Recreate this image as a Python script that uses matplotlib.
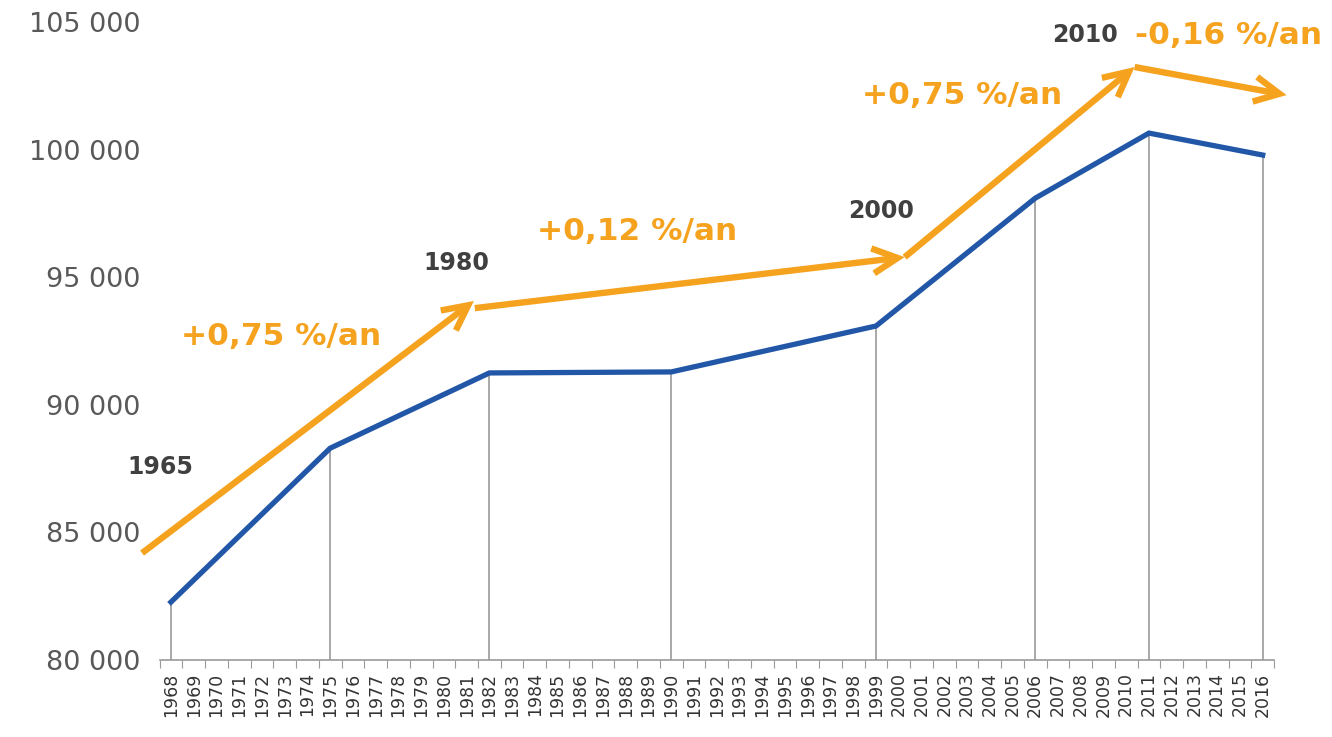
import numpy as np
import matplotlib
matplotlib.use("Agg")
import matplotlib.pyplot as plt

# %% DATA
years = list(range(1968, 2017))
obs_years = [1968, 1975, 1982, 1990, 1999, 2006, 2011, 2016]
obs_values = [82270, 88300, 91250, 91290, 93090, 98100, 100650, 99790]

# trend arrows (year index, value) : start -> end
trend_x0 = [-1.27, 13.36, 32.26, 42.37]
trend_y0 = [84190, 93790, 95790, 103240]
trend_x1 = [13.32, 32.26, 42.37, 49.05]
trend_y1 = [94070, 95790, 103240, 102140]
trend_labels = ['+0,75 %/an', '+0,12 %/an', '+0,75 %/an', '-0,16 %/an']
trend_lab_x = [4.84, 20.48, 34.77, 46.5]
trend_lab_y = [92660, 96810, 102140, 104490]

period_labels = ['1965', '1980', '2000', '2010']
period_x = [-0.48, 12.53, 31.2, 40.18]
period_y = [87560, 95560, 97600, 104490]

blue = '#2257A8'
orange = '#F5A21E'
dark = '#404040'

# %% PLOT
fig = plt.figure(figsize=(13.32, 7.37), dpi=100)
ax = fig.add_axes([0.1198, 0.1045, 0.8367, 0.8655])

idx = [years.index(y) for y in obs_years]
ax.vlines(idx, 80000, obs_values, color='#9a9a9a', lw=1.2, zorder=1)
ax.plot(idx, obs_values, color=blue, lw=3.8, solid_joinstyle='miter', zorder=3)

for x0, y0, x1, y1 in zip(trend_x0, trend_y0, trend_x1, trend_y1):
    ax.annotate('', xy=(x1, y1), xytext=(x0, y0), annotation_clip=False,
                arrowprops=dict(arrowstyle='->,head_length=0.6,head_width=0.3',
                                color=orange, lw=4.6, mutation_scale=30,
                                shrinkA=0, shrinkB=0, joinstyle='miter',
                                capstyle='butt'))

for t, x, y in zip(trend_labels, trend_lab_x, trend_lab_y):
    ax.text(x, y, t, color=orange, fontsize=22.5, fontweight='bold',
            ha='center', va='center', clip_on=False)
for t, x, y in zip(period_labels, period_x, period_y):
    ax.text(x, y, t, color=dark, fontsize=17, fontweight='bold',
            ha='center', va='center', clip_on=False)

ax.set_xlim(-0.5, len(years) - 0.5)
ax.set_ylim(80000, 105000)
ax.set_yticks(np.arange(80000, 105001, 5000))
ax.set_yticklabels([f'{v // 1000} 000' for v in range(80000, 105001, 5000)],
                   fontsize=19.5, color='#595959')
ax.tick_params(axis='y', length=0, pad=14)

ax.set_xticks(np.arange(-0.5, len(years)), labels=[])
ax.set_xticks(np.arange(len(years)), labels=[str(y) for y in years], minor=True)
ax.tick_params(axis='x', which='major', length=6, color='#9a9a9a', direction='out')
ax.tick_params(axis='x', which='minor', length=0, pad=9, labelsize=12.5,
               labelcolor='#333333', labelrotation=90)

for s in ['top', 'right', 'left']:
    ax.spines[s].set_visible(False)
ax.spines['bottom'].set_color('#9a9a9a')
ax.spines['bottom'].set_linewidth(1.2)

fig.savefig('out.png', dpi=100)
